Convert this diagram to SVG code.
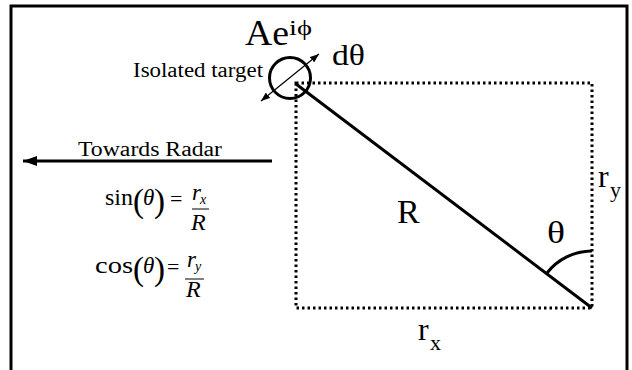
<svg xmlns="http://www.w3.org/2000/svg" width="632" height="370" viewBox="0 0 632 370">
<style>
.it{font-style:italic}
.solid{fill:none;stroke:#000;stroke-width:3}
.dot{fill:none;stroke:#000;stroke-width:3;stroke-dasharray:2.5 3}
.thin{fill:none;stroke:#000;stroke-width:1.2}
</style>
<defs>
<marker id="bigHead" viewBox="0 0 14 10" refX="14" refY="5" markerUnits="userSpaceOnUse" markerWidth="14" markerHeight="10" orient="auto">
<path d="M14,5 L0,0 L0,10 Z" fill="#000"/>
</marker>
<marker id="smallHead" viewBox="0 0 9 7" refX="9" refY="3.5" markerUnits="userSpaceOnUse" markerWidth="9" markerHeight="7" orient="auto-start-reverse">
<path d="M0,0 L9,3.5 L0,7 Z" fill="#000"/>
</marker>
</defs>
<rect width="632" height="370" fill="#fff"/>
<path id="frame" class="solid" d="M11 370 V6 H627 V370"/>

<g id="connectors">
<path class="dot" d="M296 83 H592 V308 H296 Z"/>
<line class="solid" x1="296" y1="84" x2="592" y2="308"/>
<path class="solid" d="M546.6 273.5 A57 57 0 0 1 592 251"/>
<line class="solid" x1="272" y1="161" x2="23" y2="161" marker-end="url(#bigHead)"/>
<line class="thin" x1="261" y1="101" x2="319" y2="54" marker-start="url(#smallHead)" marker-end="url(#smallHead)"/>
</g>

<g id="target" font-family="Liberation Serif, serif" fill="#000">
<circle class="solid" cx="290" cy="78" r="20.5"/>
<text x="245" y="45" font-size="35" textLength="44" lengthAdjust="spacingAndGlyphs">Ae</text>
<text x="289" y="35" font-size="21" textLength="23" lengthAdjust="spacingAndGlyphs">iϕ</text>
<text x="332" y="65" font-size="30" textLength="33" lengthAdjust="spacingAndGlyphs">dθ</text>
<text x="133" y="77" font-size="20" textLength="130" lengthAdjust="spacingAndGlyphs">Isolated target</text>
</g>

<g id="radar" font-family="Liberation Serif, serif" fill="#000">
<text x="78" y="156" font-size="20" textLength="144" lengthAdjust="spacingAndGlyphs">Towards Radar</text>
</g>

<g id="eq-sin" font-family="Liberation Serif, serif" fill="#000">
<text x="105" y="205" font-size="24" textLength="28" lengthAdjust="spacingAndGlyphs">sin</text>
<text x="133" y="212" font-size="33">(</text>
<text class="it" x="143" y="205" font-size="23">θ</text>
<text x="154" y="212" font-size="33">)</text>
<text x="170" y="206" font-size="22">=</text>
<text class="it" x="192" y="200" font-size="23">r</text>
<text class="it" x="200" y="204" font-size="14">x</text>
<line x1="192" y1="209" x2="209" y2="209" stroke="#000" stroke-width="1"/>
<text class="it" x="191" y="230" font-size="24">R</text>
</g>

<g id="eq-cos" font-family="Liberation Serif, serif" fill="#000">
<text x="95" y="273" font-size="24" textLength="38" lengthAdjust="spacingAndGlyphs">cos</text>
<text x="133" y="280" font-size="33">(</text>
<text class="it" x="143" y="273" font-size="23">θ</text>
<text x="154" y="280" font-size="33">)</text>
<text x="167" y="274" font-size="22">=</text>
<text class="it" x="187" y="267" font-size="23">r</text>
<text class="it" x="195" y="271" font-size="14">y</text>
<line x1="185" y1="279" x2="204" y2="279" stroke="#000" stroke-width="1"/>
<text class="it" x="186" y="297" font-size="24">R</text>
</g>

<g id="labels" font-family="Liberation Serif, serif" fill="#000">
<text x="397" y="223" font-size="34">R</text>
<text x="547" y="243" font-size="31" textLength="18" lengthAdjust="spacingAndGlyphs">θ</text>
<text x="598" y="187" font-size="32">r</text>
<text x="610" y="197" font-size="22">y</text>
<text x="418" y="340" font-size="32">r</text>
<text x="430" y="350" font-size="22">x</text>
</g>
</svg>
